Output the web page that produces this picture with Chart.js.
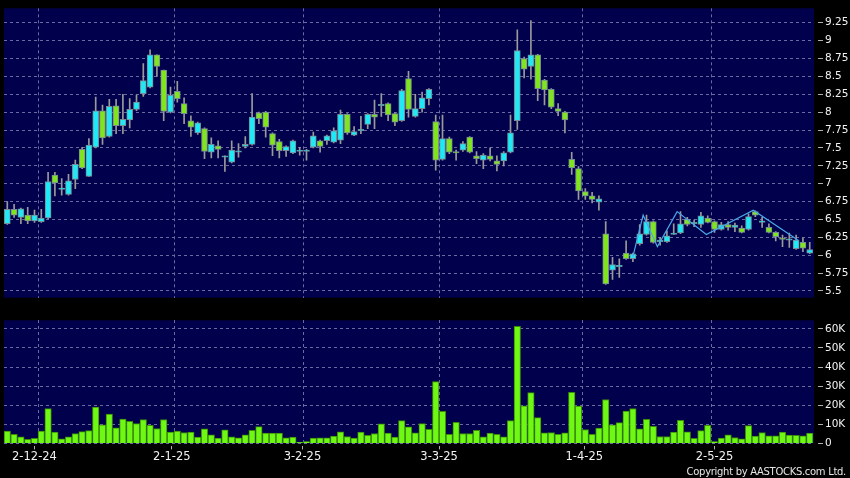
<!DOCTYPE html>
<html><head><meta charset="utf-8">
<script src="https://cdn.jsdelivr.net/npm/chart.js@4"></script>
<style>
html,body{margin:0;padding:0;background:#000;width:850px;height:478px;overflow:hidden;position:relative}
canvas{position:absolute;left:0}
#c1{top:0}
#c2{top:312px}
#copy{position:absolute;right:4px;top:465px;font:10px 'DejaVu Sans';letter-spacing:-0.3px;color:#e6e6e6;line-height:13px;white-space:nowrap}
</style></head><body>
<canvas id="c1" width="850" height="306"></canvas>
<canvas id="c2" width="850" height="166"></canvas>
<div id="copy">Copyright by AASTOCKS.com Ltd.</div>
<script>
// ---- data (one entry per trading day) ----
const opens = [6.44,6.64,6.53,6.56,6.48,6.47,6.52,7.12,6.92,6.85,7.06,7.48,7.10,7.51,8.02,7.66,8.09,7.81,7.89,8.04,
  8.26,8.35,8.80,8.59,8.00,8.29,8.12,7.88,7.71,7.77,7.44,7.53,7.37,7.30,7.44,7.52,7.55,7.99,8.00,7.70,
  7.59,7.46,7.43,7.45,7.45,7.51,7.60,7.60,7.58,7.61,7.97,7.68,7.74,7.83,7.97,8.09,8.12,7.98,7.88,8.47,
  7.94,8.05,8.19,7.87,7.34,7.63,7.45,7.47,7.65,7.39,7.33,7.39,7.32,7.32,7.44,7.88,8.75,8.64,8.80,8.45,
  8.32,8.05,8.00,7.34,7.21,6.89,6.83,6.74,6.30,5.79,5.84,6.03,5.95,6.16,6.29,6.47,6.19,6.19,6.29,6.31,
  6.50,6.44,6.43,6.52,6.47,6.36,6.43,6.39,6.38,6.36,6.61,6.46,6.39,6.32,6.24,6.21,6.09,6.18,6.03];
const highs = [6.75,6.71,6.66,6.67,6.63,6.64,7.16,7.16,7.07,7.13,7.33,7.51,7.63,8.21,8.10,8.18,8.18,8.25,8.19,8.24,
  8.68,8.87,8.80,8.59,8.35,8.43,8.20,7.95,7.86,7.78,7.64,7.60,7.39,7.60,7.56,7.66,8.26,8.00,8.01,7.71,
  7.62,7.53,7.61,7.51,7.48,7.72,7.61,7.68,7.78,8.03,7.98,7.80,7.94,7.98,8.17,8.26,8.13,7.99,8.32,8.57,
  8.25,8.28,8.33,7.96,7.96,7.65,7.47,7.59,7.66,7.45,7.42,7.50,7.39,7.45,7.96,9.15,8.77,9.28,8.81,8.46,
  8.33,8.12,8.01,7.44,7.24,6.93,6.88,6.83,6.47,5.97,5.95,6.20,6.03,6.43,6.56,6.48,6.25,6.34,6.44,6.61,
  6.53,6.49,6.60,6.55,6.48,6.46,6.47,6.45,6.41,6.58,6.62,6.53,6.44,6.33,6.28,6.31,6.28,6.24,6.18];
const lows = [6.43,6.53,6.44,6.44,6.46,6.46,6.51,6.83,6.84,6.84,6.93,7.21,7.10,7.50,7.55,7.65,7.70,7.70,7.78,8.02,
  8.22,8.34,8.50,7.88,7.99,8.14,7.84,7.66,7.69,7.35,7.36,7.36,7.17,7.29,7.37,7.50,7.54,7.84,7.65,7.39,
  7.36,7.38,7.42,7.40,7.33,7.50,7.44,7.55,7.57,7.56,7.69,7.67,7.70,7.77,7.77,7.94,7.88,7.81,7.87,7.93,
  7.93,8.00,8.10,7.19,7.33,7.42,7.33,7.45,7.43,7.28,7.21,7.32,7.18,7.25,7.43,7.76,8.48,8.46,8.16,8.10,
  8.05,7.95,7.71,7.13,6.78,6.78,6.73,6.63,5.59,5.66,5.69,5.94,5.91,6.14,6.28,6.17,6.14,6.18,6.29,6.30,
  6.41,6.40,6.39,6.45,6.32,6.35,6.35,6.33,6.31,6.35,6.54,6.39,6.31,6.20,6.12,6.11,6.08,6.05,6.02];
const closes = [6.64,6.56,6.65,6.48,6.56,6.52,7.03,7.01,6.94,7.04,7.27,7.22,7.54,8.02,7.64,8.08,7.81,7.90,8.04,8.14,
  8.44,8.80,8.64,8.01,8.24,8.19,7.98,7.79,7.85,7.45,7.55,7.48,7.39,7.47,7.46,7.55,7.93,7.91,7.79,7.54,
  7.46,7.52,7.60,7.47,7.47,7.67,7.52,7.67,7.74,7.97,7.71,7.73,7.76,7.97,7.93,8.11,7.96,7.86,8.30,8.04,
  8.05,8.20,8.32,7.33,7.63,7.44,7.43,7.56,7.44,7.35,7.40,7.34,7.27,7.43,7.71,8.86,8.60,8.80,8.33,8.31,
  8.07,8.01,7.89,7.22,6.90,6.83,6.78,6.79,5.60,5.87,5.86,5.95,6.02,6.30,6.47,6.18,6.21,6.27,6.31,6.44,
  6.43,6.46,6.55,6.46,6.36,6.43,6.39,6.42,6.32,6.54,6.56,6.48,6.32,6.26,6.22,6.23,6.21,6.10,6.08];
// volume in thousands of shares
const volumes = [6.4,4.8,3.5,2.1,2.6,6.4,18.2,5.9,2.4,3.5,5.2,6.2,6.7,19.0,9.7,15.4,8.1,12.8,11.6,10.4,
  12.5,9.5,7.8,12.5,5.9,6.4,5.7,5.9,3.3,7.6,4.5,2.8,7.1,3.5,2.9,4.5,6.9,8.8,5.4,5.4,
  5.4,2.9,3.3,0.5,1.0,2.8,2.9,2.9,3.8,6.1,3.6,2.8,5.9,4.2,5.2,10.2,5.4,3.3,11.9,8.7,
  5.5,10.4,7.4,32.4,16.8,4.7,11.1,5.2,5.2,6.9,3.5,5.4,4.7,3.5,11.9,61.4,19.7,26.6,13.5,5.5,
  5.7,4.8,5.5,26.8,19.6,7.3,4.8,8.0,23.0,9.7,10.9,17.0,18.3,7.6,12.6,9.0,3.6,3.6,5.9,12.1,
  6.1,2.6,6.7,9.5,1.0,2.8,4.5,3.1,2.4,9.3,3.8,5.7,4.0,4.0,5.9,4.3,4.2,4.0,5.4];
// zig-zag overlay (position in trading-day index, price)
const zigIdx = [92, 93.5, 95.6, 98.5, 102.8, 109.7, 116.3];
const zigVal = [5.98, 6.56, 6.12, 6.61, 6.29, 6.63, 6.21];
// date axis
const xTickLabels = ['2-12-24','2-1-25','3-2-25','3-3-25','1-4-25','2-5-25'];
const xTickIdx = [4, 24.2, 43.4, 63.5, 84.85, 104];
const gridIdx = [4.55, 24.55, 43.55, 63.55, 84.55, 103.55];
const priceTicks = [5.5,5.75,6,6.25,6.5,6.75,7,7.25,7.5,7.75,8,8.25,8.5,8.75,9,9.25];
const volumeTicks = [0,10000,20000,30000,40000,50000,60000];

// ---- styling ----
Chart.defaults.font.family = "'DejaVu Sans'";
Chart.defaults.animation = false;
const NAVY = '#00004c', CYAN = '#20e8f4', GREEN = '#80e41e';
const GRID = '#6a6aa0';
const X_MIN = -0.485, X_MAX = 118.63;
const navyBg = { id:'navyBg', beforeDraw(chart){ const {ctx, chartArea:a} = chart; ctx.save(); ctx.fillStyle = NAVY; ctx.fillRect(a.left, a.top, a.right-a.left, a.bottom-a.top); ctx.restore(); } };
const yTickGrid = { color: GRID, lineWidth:1, drawTicks:true, tickLength:9, tickColor:'#b0b0b0', tickBorderDash:[0,4,5], tickWidth:1 };
const dashBorder = { display:false, dash:[3,3] };

const bodies = opens.map((o,i)=>({x:i, y:[o, closes[i]]}));
const wicks = lows.map((l,i)=>({x:i, y:[l, highs[i]]}));
const bodyColors = opens.map((o,i)=> closes[i] >= o ? CYAN : GREEN);

new Chart(document.getElementById('c1'), {
  type:'bar',
  data:{ datasets:[
    { type:'line', data: zigIdx.map((x,i)=>({x, y:zigVal[i]})), borderColor:'#4aa6ea', borderWidth:1.2, pointRadius:0, tension:0, order:1 },
    { data: bodies, backgroundColor: bodyColors, borderColor:'#768a94', borderWidth:1, borderSkipped:false, barThickness:6, grouped:false, order:2 },
    { data: wicks, backgroundColor:'#9a9a9a', borderWidth:0, barThickness:1, grouped:false, order:3 }
  ]},
  options:{
    responsive:false,
    layout:{ padding:{ top:6, left:4, right:0, bottom:0 } },
    plugins:{ legend:{display:false}, tooltip:{enabled:false} },
    scales:{
      x:{ type:'linear', min:X_MIN, max:X_MAX, offset:false, position:'bottom',
          afterBuildTicks:s=>{ s.ticks = gridIdx.map(v=>({value:v})); },
          ticks:{ display:false },
          grid:{ color:GRID, drawTicks:false, offset:false },
          border: dashBorder,
          afterFit:s=>{ s.height = 0; } },
      y:{ type:'linear', position:'right', min:5.406, max:9.452,
          afterBuildTicks:s=>{ s.ticks = priceTicks.map(v=>({value:v})); },
          ticks:{ color:'#f2f2f2', font:{size:10.5}, padding:2, callback:v=>String(v) },
          grid: yTickGrid,
          border: dashBorder,
          afterFit:s=>{ s.width = 36; } }
    }
  },
  plugins:[navyBg]
});

new Chart(document.getElementById('c2'), {
  type:'bar',
  data:{ datasets:[
    { data: volumes.map((v,i)=>({x:i, y:v*1000})), backgroundColor:'#6ef814', borderColor:'#3a8a08', borderWidth:1, barThickness:6.5, grouped:false }
  ]},
  options:{
    responsive:false,
    layout:{ padding:{ top:7, left:4, right:0, bottom:0 } },
    plugins:{ legend:{display:false}, tooltip:{enabled:false} },
    scales:{
      x:{ type:'linear', min:X_MIN, max:X_MAX, offset:false, position:'bottom',
          afterBuildTicks:s=>{ s.ticks = xTickIdx.map(v=>({value:v})); },
          ticks:{ color:'#f2f2f2', font:{size:11.5}, padding:1, autoSkip:false, maxRotation:0, minRotation:0,
                  callback:(v,i)=>xTickLabels[i] },
          grid:{ drawOnChartArea:false, drawTicks:true, tickLength:6, tickColor:'#b0b0b0', tickBorderDash:[0,3,3], offset:false },
          border:{ display:false },
          afterFit:s=>{ s.height = 34.6; } },
      xg:{ type:'linear', min:X_MIN, max:X_MAX, offset:false, position:'top',
          afterBuildTicks:s=>{ s.ticks = gridIdx.map(v=>({value:v})); },
          ticks:{ display:false },
          grid:{ color:GRID, drawTicks:false, offset:false },
          border: dashBorder,
          afterFit:s=>{ s.height = 0; } },
      y:{ type:'linear', position:'right', min:0, max:64500,
          afterBuildTicks:s=>{ s.ticks = volumeTicks.map(v=>({value:v})); },
          ticks:{ color:'#f2f2f2', font:{size:10.5}, padding:2, callback:v=> v===0 ? '0' : (v/1000)+'K' },
          grid: yTickGrid,
          border: dashBorder,
          afterFit:s=>{ s.width = 36; } }
    }
  },
  plugins:[navyBg]
});
</script>
</body></html>
